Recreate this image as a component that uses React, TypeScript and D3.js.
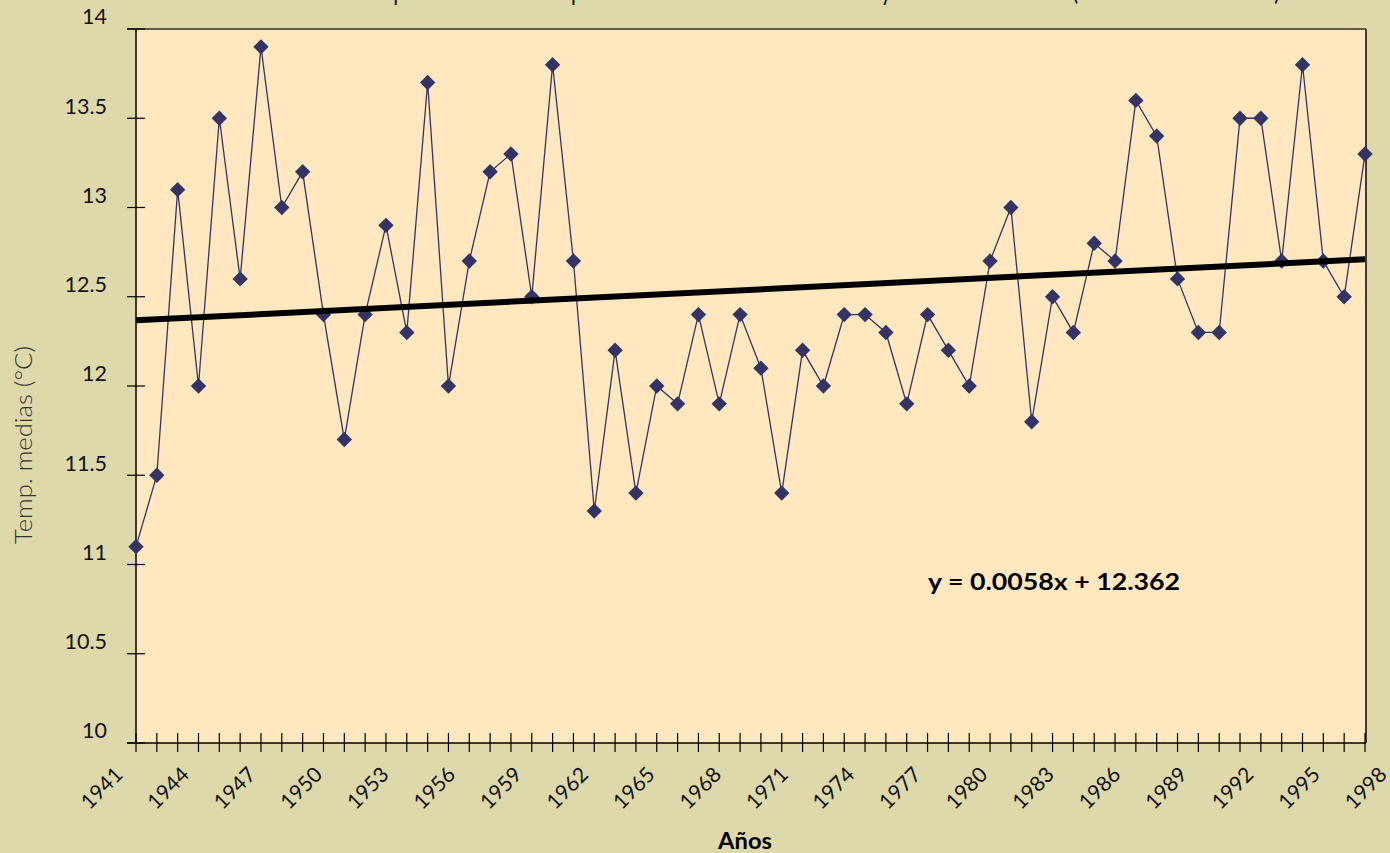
import React from "react";
import * as d3 from "d3";

const values: number[] = [
  11.1, 11.5, 13.1, 12.0, 13.5, 12.6, 13.9, 13.0, 13.2, 12.4,
  11.7, 12.4, 12.9, 12.3, 13.7, 12.0, 12.7, 13.2, 13.3, 12.5,
  13.8, 12.7, 11.3, 12.2, 11.4, 12.0, 11.9, 12.4, 11.9, 12.4,
  12.1, 11.4, 12.2, 12.0, 12.4, 12.4, 12.3, 11.9, 12.4, 12.2,
  12.0, 12.7, 13.0, 11.8, 12.5, 12.3, 12.8, 12.7, 13.6, 13.4,
  12.6, 12.3, 12.3, 13.5, 13.5, 12.7, 13.8, 12.7, 12.5, 13.3,
];
const pointIndex: number[] = values.map((_, i) => i + 1);

const xLabels: string[] = [
  "1941", "1944", "1947", "1950", "1953", "1956", "1959", "1962", "1965", "1968",
  "1971", "1974", "1977", "1980", "1983", "1986", "1989", "1992", "1995", "1998",
];
const yTicks: number[] = [10, 10.5, 11, 11.5, 12, 12.5, 13, 13.5, 14];
const yTickLabels: string[] = ["10", "10.5", "11", "11.5", "12", "12.5", "13", "13.5", "14"];

const trendSlope = 0.0058;
const trendIntercept = 12.362;
const equationText = "y = 0.0058x + 12.362";
const titleText =
  "Temperatura media del periodo de estudio en la estación y su tendencia lineal (serie de 1941 a 1998)";
const yAxisTitle = "Temp. medias (°C)";
const xAxisTitle = "Años";

const W = 1390;
const H = 853;
const L = 136;
const R = 1365;
const T = 29;
const B = 743;

const FONT = "Lato, 'Noto Sans', sans-serif";

export default function App() {
  const x = d3.scalePoint<number>().domain(pointIndex).range([L, R]);
  const y = d3.scaleLinear().domain([10, 14]).range([B, T]);
  const labelX = d3.scalePoint<string>().domain(xLabels).range([124, 1388]);

  const line = d3
    .line<number>()
    .x((_, i) => x(pointIndex[i]) as number)
    .y((d) => y(d));

  const trendPts = [pointIndex[0], pointIndex[pointIndex.length - 1]];
  const trendLine = d3
    .line<number>()
    .x((d) => x(d) as number)
    .y((d) => y(trendSlope * d + trendIntercept));

  const diamond = d3.symbol().type(d3.symbolSquare).size(118)() as string;

  return (
    <svg
      width={W}
      height={H}
      style={{ position: "absolute", left: 0, top: 0, display: "block" }}
      fontFamily={FONT}
    >
      <rect x={0} y={0} width={W} height={H} fill="#DED9AA" />
      <text
        x={355}
        y={0}
        fontSize={26}
        textLength={925}
        lengthAdjust="spacingAndGlyphs"
        fill="#111"
      >
        {titleText}
      </text>
      <rect x={L} y={T} width={R - L} height={B - T} fill="#FFE8BF" />
      <line x1={127} x2={R + 1} y1={T} y2={T} stroke="#5E5A44" strokeWidth={2} />
      <line x1={R + 1} x2={R + 1} y1={T} y2={B} stroke="#3F3C2E" strokeWidth={2} />
      <line x1={L} x2={L} y1={T} y2={B} stroke="#000" strokeWidth={1.5} />
      {yTicks.map((t, i) => (
        <g key={"yt" + i}>
          <line x1={127} x2={145} y1={y(t)} y2={y(t)} stroke="#000" strokeWidth={1.2} />
          <text
            x={107}
            y={y(t)}
            dy="-0.22em"
            textAnchor="end"
            fontSize={21.5}
            fill="#111"
          >
            {yTickLabels[i]}
          </text>
        </g>
      ))}
      <line x1={127} x2={R + 1} y1={B} y2={B} stroke="#000" strokeWidth={1.5} />
      {pointIndex.map((p) => (
        <line
          key={"xt" + p}
          x1={x(p)}
          x2={x(p)}
          y1={733}
          y2={752}
          stroke="#000"
          strokeWidth={1.2}
        />
      ))}
      {xLabels.map((lab) => (
        <text
          key={lab}
          transform={`translate(${labelX(lab)},${776}) rotate(-45)`}
          textAnchor="end"
          fontSize={21}
          fill="#111"
        >
          {lab}
        </text>
      ))}
      <path d={line(values) as string} fill="none" stroke="#333366" strokeWidth={1.3} />
      {values.map((v, i) => (
        <path
          key={"pt" + i}
          d={diamond}
          transform={`translate(${x(pointIndex[i])},${y(v)}) rotate(45)`}
          fill="#333366"
        />
      ))}
      <path d={trendLine(trendPts) as string} fill="none" stroke="#000" strokeWidth={6} />
      <text
        x={928}
        y={590}
        fontSize={22}
        fontWeight="bold"
        textLength={252}
        lengthAdjust="spacingAndGlyphs"
        fill="#000"
      >
        {equationText}
      </text>
      <text
        transform={`translate(32,445) rotate(-90)`}
        textAnchor="middle"
        fontSize={24}
        fontWeight={300}
        textLength={198}
        lengthAdjust="spacingAndGlyphs"
        fill="#333"
      >
        {yAxisTitle}
      </text>
      <text
        x={745}
        y={849}
        textAnchor="middle"
        fontSize={22}
        fontWeight="bold"
        textLength={54}
        lengthAdjust="spacingAndGlyphs"
        fill="#000"
      >
        {xAxisTitle}
      </text>
    </svg>
  );
}
